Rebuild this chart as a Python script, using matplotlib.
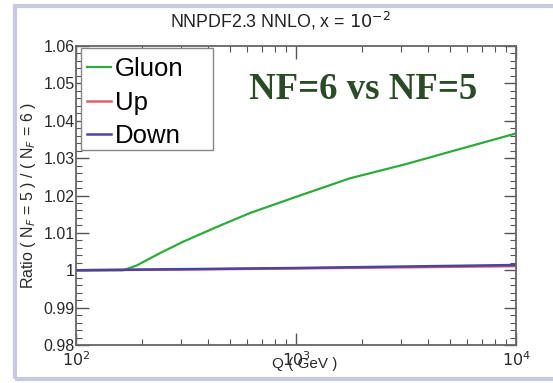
import matplotlib
matplotlib.use("Agg")
import matplotlib.pyplot as plt
from matplotlib.patches import Rectangle
from matplotlib.ticker import LogLocator, MultipleLocator, NullFormatter, FixedFormatter, FixedLocator

# ratio N_F=5 / N_F=6 at x = 1e-2, vs Q in GeV
q_gluon = [100, 164, 189, 241, 306, 437, 617, 1042, 1758, 3162, 5012, 10000]
r_gluon = [1.0, 1.0, 1.0013, 1.0046, 1.0076, 1.0116, 1.0153, 1.0200, 1.0246, 1.0284, 1.0317, 1.0366]

q_quark = [100, 316, 1000, 3162, 10000]
r_up = [1.0, 1.0002, 1.0005, 1.0008, 1.0011]
r_down = [1.0, 1.0003, 1.0006, 1.0010, 1.0014]

plt.rcParams["font.family"] = ["Liberation Sans", "DejaVu Sans"]

fig = plt.figure(figsize=(5.53, 3.83), dpi=100)

# lavender frame around the canvas
fig.patches.append(Rectangle((15 / 553, 1 - 379 / 383), 1.0, 373 / 383,
                             transform=fig.transFigure, fill=False,
                             edgecolor="#c9c9e2", linewidth=3))

ax = fig.add_axes([76 / 553, 1 - 345 / 383, 440 / 553, 299 / 383])

ax.plot(q_gluon, r_gluon, color="#2eaa3c", lw=1.6, label="Gluon")
ax.plot(q_quark, r_up, color="#e0606c", lw=1.8, label="Up")
ax.plot(q_quark, r_down, color="#4a44a0", lw=1.8, label="Down")

ax.set_xscale("log")
ax.set_xlim(100, 10000)
ax.set_ylim(0.98, 1.06)

ax.xaxis.set_major_locator(FixedLocator([100, 1000, 10000]))
ax.xaxis.set_major_formatter(FixedFormatter(["$10^{2}$", "$10^{3}$", "$10^{4}$"]))
ax.xaxis.set_minor_locator(LogLocator(base=10, subs=range(2, 10)))
ax.xaxis.set_minor_formatter(NullFormatter())

ax.yaxis.set_major_locator(MultipleLocator(0.01))
ax.yaxis.set_minor_locator(MultipleLocator(0.002))
ax.set_yticks([0.98, 0.99, 1.0, 1.01, 1.02, 1.03, 1.04, 1.05, 1.06])
ax.set_yticklabels(["0.98", "0.99", "1", "1.01", "1.02", "1.03", "1.04", "1.05", "1.06"])

ax.tick_params(which="both", direction="in", top=True, right=True, colors="#555555",
               labelcolor="#2a2a2a", labelsize=11.5)
ax.tick_params(which="major", length=9, width=1.0)
ax.tick_params(which="minor", length=4.5, width=0.8)
ax.tick_params(axis="x", pad=4)
ax.tick_params(axis="y", pad=1)
for s in ax.spines.values():
    s.set_color("#666666")
    s.set_linewidth(1.3)

fig.text(280 / 553, 1 - 21 / 383, "NNPDF2.3 NNLO, x = $10^{-2}$", ha="center", va="center",
         fontsize=12.8, color="#222222")
ax.set_ylabel("Ratio ( N$_F$ = 5 ) / ( N$_F$ = 6 )", fontsize=11.5, color="#2a2a2a", labelpad=4)
ax.text(0.52, -0.04, "Q ( GeV )", transform=ax.transAxes, ha="center", va="top",
        fontsize=11, color="#2a2a2a")

# legend box drawn separately so it keeps its wide right margin
ax.add_patch(Rectangle((0.012, 0.652), 0.299, 0.342, transform=ax.transAxes,
                       facecolor="white", edgecolor="#888888", linewidth=1.0, zorder=4))
leg = ax.legend(loc="upper left", bbox_to_anchor=(0.0, 1.0), fontsize=18.5,
                frameon=False, handlelength=0.95, handletextpad=0.15, borderpad=0.27,
                labelspacing=0.38, borderaxespad=0.15)
leg.set_zorder(5)

ax.text(0.652, 0.856, "NF=6 vs NF=5", transform=ax.transAxes, ha="center", va="center",
        fontsize=26.5, fontweight="bold", family="Liberation Serif", color="#2a4a28")

fig.savefig("out.png", dpi=100)
